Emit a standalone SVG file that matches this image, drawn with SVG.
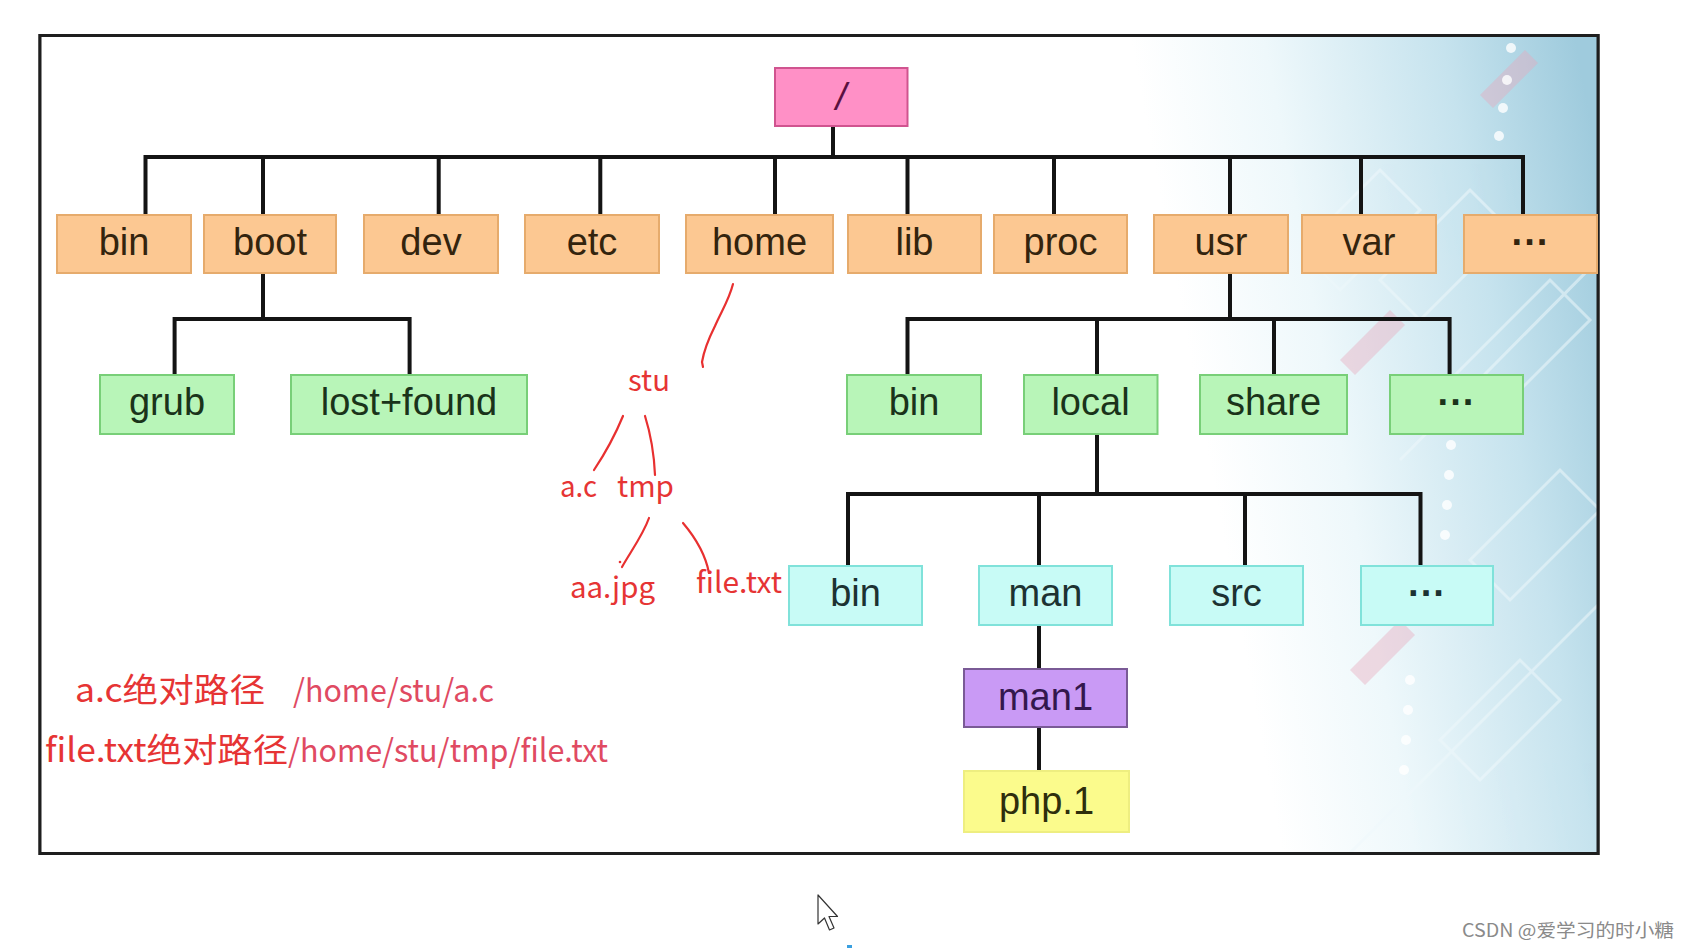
<svg xmlns="http://www.w3.org/2000/svg" width="1690" height="948" viewBox="0 0 1690 948">
<defs>
<linearGradient id="bgGrad" gradientUnits="userSpaceOnUse" x1="1220" y1="520" x2="1650" y2="440">
<stop offset="0" stop-color="#ffffff"/>
<stop offset="0.3" stop-color="#eef8fb"/>
<stop offset="0.7" stop-color="#c6e3ee"/>
<stop offset="1" stop-color="#9fcbdd"/>
</linearGradient>
<clipPath id="frameClip"><rect x="40" y="35.5" width="1558" height="818"/></clipPath>
<style>
.frame{fill:#fff;stroke:#1e1e1e;stroke-width:3}
.conn{stroke:#141414;stroke-width:4;fill:none;stroke-linecap:square}
.box{stroke-width:2}
.root{fill:#ff90c6;stroke:#d0548f}
.org{fill:#fcc892;stroke:#e6ab6c}
.grn{fill:#b8f5b8;stroke:#78cf78}
.cyn{fill:#c8fbf6;stroke:#80e2da}
.pur{fill:#c99af5;stroke:#7a5a96}
.yel{fill:#fbfb8c;stroke:#eeee80}
.lbl{font-family:"Liberation Sans",Arial,sans-serif;font-size:38px;text-anchor:middle}
.t-org{fill:#33240e}
.t-grn{fill:#1a331a}
.t-cyn{fill:#1c3232}
.t-pur{fill:#33174d}
.t-yel{fill:#2e2e0c}
.red{fill:#e63434;font-family:"Noto Sans CJK SC","Liberation Sans",sans-serif}
.redp{fill:#e04a62;font-family:"Noto Sans CJK SC","Liberation Sans",sans-serif}
.ann{stroke:#e83030;stroke-width:2.2;fill:none;stroke-linecap:round}
.deco{fill:none;stroke:#eef8fb;stroke-width:3;opacity:0.55}
.pink{fill:#e8a8bc;opacity:0.4}
.dot{fill:#ffffff;opacity:0.8}
</style>
</defs>

<g id="background">
<rect class="frame" x="40" y="35.5" width="1558" height="818"/>
<g clip-path="url(#frameClip)">
<rect x="40" y="35.5" width="1560" height="818" fill="url(#bgGrad)"/>
<g class="deco">
<path d="M1300,250 L1380,170 L1420,210 L1340,290 Z"/>
<path d="M1380,280 L1470,190 L1510,230 L1420,320 Z"/>
<path d="M1450,380 L1550,280 L1590,320 L1490,420 Z"/>
<path d="M1470,560 L1560,470 L1600,510 L1510,600 Z"/>
<path d="M1440,740 L1520,660 L1560,700 L1480,780 Z"/>
<path d="M1400,460 L1598,260"/>
<path d="M1350,853 L1598,605"/>
</g>
<path class="pink" d="M1480,95 L1525,50 L1538,63 L1493,108 Z"/>
<path class="pink" d="M1340,360 L1390,310 L1405,325 L1355,375 Z"/>
<path class="pink" d="M1350,670 L1400,620 L1415,635 L1365,685 Z"/>
<g>
<circle class="dot" cx="1511" cy="48" r="5"/>
<circle class="dot" cx="1507" cy="80" r="5"/>
<circle class="dot" cx="1503" cy="108" r="5"/>
<circle class="dot" cx="1499" cy="136" r="5"/>
<circle class="dot" cx="1451" cy="445" r="5"/>
<circle class="dot" cx="1449" cy="475" r="5"/>
<circle class="dot" cx="1447" cy="505" r="5"/>
<circle class="dot" cx="1445" cy="535" r="5"/>
<circle class="dot" cx="1410" cy="680" r="5"/>
<circle class="dot" cx="1408" cy="710" r="5"/>
<circle class="dot" cx="1406" cy="740" r="5"/>
<circle class="dot" cx="1404" cy="770" r="5"/>
</g>
</g>
<rect x="40" y="35.5" width="1558" height="818" fill="none" stroke="#1e1e1e" stroke-width="3"/>
</g>

<g id="connectors">
<path class="conn" d="M833,126 V157 M145.5,157 H1523 M145.5,157 V215 M263,157 V215 M438.7,157 V215 M600.3,157 V215 M775,157 V215 M907.5,157 V215 M1054,157 V215 M1230,157 V215 M1361,157 V215 M1523,157 V215"/>
<path class="conn" d="M263,273 V319 M174.6,319 H409.6 M174.6,319 V375 M409.6,319 V375"/>
<path class="conn" d="M1230,273 V319 M907.5,319 H1449.6 M907.5,319 V375 M1097,319 V375 M1274,319 V375 M1449.6,319 V375"/>
<path class="conn" d="M1097,434 V494 M848,494 H1420.5 M848,494 V566 M1039,494 V566 M1245,494 V566 M1420.5,494 V566"/>
<path class="conn" d="M1039,625 V669 M1039,727 V771"/>
</g>

<g id="node-root"><rect class="box root" x="775" y="68" width="132.5" height="58"/><text class="lbl" x="841" y="110" fill="#5a1040" font-style="italic">/</text></g>

<g id="node-bin"><rect class="box org" x="57" y="215" width="134" height="58"/><text class="lbl t-org" x="124" y="255">bin</text></g>
<g id="node-boot"><rect class="box org" x="204" y="215" width="132" height="58"/><text class="lbl t-org" x="270" y="255">boot</text></g>
<g id="node-dev"><rect class="box org" x="364" y="215" width="134" height="58"/><text class="lbl t-org" x="431" y="255">dev</text></g>
<g id="node-etc"><rect class="box org" x="525" y="215" width="134" height="58"/><text class="lbl t-org" x="592" y="255">etc</text></g>
<g id="node-home"><rect class="box org" x="686" y="215" width="147" height="58"/><text class="lbl t-org" x="759.5" y="255">home</text></g>
<g id="node-lib"><rect class="box org" x="848" y="215" width="133" height="58"/><text class="lbl t-org" x="914.5" y="255">lib</text></g>
<g id="node-proc"><rect class="box org" x="994" y="215" width="133" height="58"/><text class="lbl t-org" x="1060.5" y="255">proc</text></g>
<g id="node-usr"><rect class="box org" x="1154" y="215" width="134" height="58"/><text class="lbl t-org" x="1221" y="255">usr</text></g>
<g id="node-var"><rect class="box org" x="1302" y="215" width="134" height="58"/><text class="lbl t-org" x="1369" y="255">var</text></g>
<g id="node-more1"><rect class="box org" x="1464" y="215" width="133" height="58"/><text class="lbl t-org" x="1530.5" y="255" font-weight="bold">···</text></g>

<g id="node-grub"><rect class="box grn" x="100" y="375" width="134" height="59"/><text class="lbl t-grn" x="167" y="415">grub</text></g>
<g id="node-lostfound"><rect class="box grn" x="291" y="375" width="236" height="59"/><text class="lbl t-grn" x="409" y="415">lost+found</text></g>
<g id="node-usr-bin"><rect class="box grn" x="847" y="375" width="134" height="59"/><text class="lbl t-grn" x="914" y="415">bin</text></g>
<g id="node-local"><rect class="box grn" x="1024" y="375" width="133.5" height="59"/><text class="lbl t-grn" x="1090.5" y="415">local</text></g>
<g id="node-share"><rect class="box grn" x="1200" y="375" width="147" height="59"/><text class="lbl t-grn" x="1273.5" y="415">share</text></g>
<g id="node-more2"><rect class="box grn" x="1390" y="375" width="133" height="59"/><text class="lbl t-grn" x="1456.5" y="415" font-weight="bold">···</text></g>

<g id="node-local-bin"><rect class="box cyn" x="789" y="566" width="133" height="59"/><text class="lbl t-cyn" x="855.5" y="606">bin</text></g>
<g id="node-man"><rect class="box cyn" x="979" y="566" width="133" height="59"/><text class="lbl t-cyn" x="1045.5" y="606">man</text></g>
<g id="node-src"><rect class="box cyn" x="1170" y="566" width="133" height="59"/><text class="lbl t-cyn" x="1236.5" y="606">src</text></g>
<g id="node-more3"><rect class="box cyn" x="1361" y="566" width="132" height="59"/><text class="lbl t-cyn" x="1427" y="606" font-weight="bold">···</text></g>

<g id="node-man1"><rect class="box pur" x="964" y="669" width="163" height="58"/><text class="lbl t-pur" x="1045.5" y="710">man1</text></g>
<g id="node-php1"><rect class="box yel" x="964" y="771" width="165" height="61"/><text class="lbl t-yel" x="1046.5" y="814">php.1</text></g>

<g id="annotations">
<path class="ann" d="M733,284 C729,300 721,312 715,326 C709,338 704,350 702,362 L703,367"/>
<path class="ann" d="M623,416 C616,433 606,452 594,470"/>
<path class="ann" d="M645,416 C650,432 654,452 655,475"/>
<path class="ann" d="M649,518 C643,535 631,551 622,567"/>
<circle cx="620" cy="562" r="1.3" fill="#e83030"/>
<path class="ann" d="M683,523 C694,536 705,552 709,573"/>
<text class="red" x="628" y="391" font-size="29" textLength="42" lengthAdjust="spacingAndGlyphs">stu</text>
<text class="red" x="560" y="497" font-size="29" textLength="37" lengthAdjust="spacingAndGlyphs">a.c</text>
<text class="red" x="617" y="497" font-size="29" textLength="57" lengthAdjust="spacingAndGlyphs">tmp</text>
<text class="red" x="570" y="598" font-size="29" textLength="85" lengthAdjust="spacingAndGlyphs">aa.jpg</text>
<text class="red" x="696" y="593" font-size="29" textLength="86" lengthAdjust="spacingAndGlyphs">file.txt</text>
<text class="red" x="75" y="702" font-size="33" textLength="190" lengthAdjust="spacingAndGlyphs">a.c绝对路径</text>
<text class="redp" x="293" y="702" font-size="32" textLength="201" lengthAdjust="spacingAndGlyphs">/home/stu/a.c</text>
<text class="red" x="45" y="762" font-size="33" textLength="243" lengthAdjust="spacingAndGlyphs">file.txt绝对路径</text>
<text class="redp" x="288" y="762" font-size="32" textLength="320" lengthAdjust="spacingAndGlyphs">/home/stu/tmp/file.txt</text>
</g>

<g id="overlay">
<path d="M818,895 V924 L824.5,918 L829.5,930 L834,928 L829,916.5 L837.5,916.5 Z" fill="#fff" stroke="#333" stroke-width="1.2" stroke-linejoin="round"/>
<rect x="847" y="945" width="5" height="3" fill="#3aa0e0"/>
<text x="1462" y="937" font-family="'Noto Sans CJK SC','Liberation Sans',sans-serif" font-size="18" fill="#8a8a8a" textLength="212" lengthAdjust="spacingAndGlyphs">CSDN @爱学习的时小糖</text>
</g>
</svg>
